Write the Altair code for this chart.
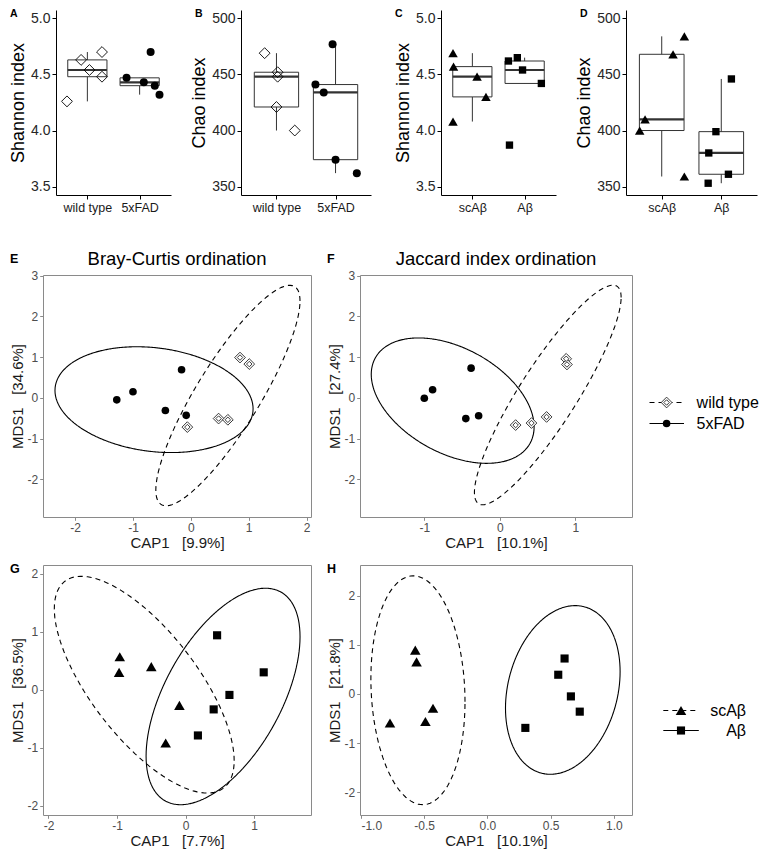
import altair as alt
import pandas as pd

FONT = "Liberation Sans"
INK = "#333333"
GRAYTXT = "#4d4d4d"
BORDER = "#8a8a8a"

genotypes = ["wild type", "5xFAD"]
treatments = ["scA\u03b2", "A\u03b2"]

# ---------------- top row: alpha diversity (x = jittered group position) ----------------
a_wt_x = [0.61, 0.88, 1.04, 1.28, 1.28]
a_wt_y = [4.26, 4.63, 4.54, 4.70, 4.48]
a_fad_x = [1.75, 2.08, 2.21, 2.29, 2.38]
a_fad_y = [4.47, 4.43, 4.70, 4.40, 4.32]

b_wt_x = [0.80, 1.02, 1.02, 1.00, 1.31]
b_wt_y = [469, 452, 448, 421, 400]
b_fad_x = [1.66, 1.80, 1.95, 2.00, 2.36]
b_fad_y = [441, 434, 477, 374, 362]

c_sc_x = [0.63, 0.64, 1.09, 1.26, 0.63]
c_sc_y = [4.69, 4.57, 4.48, 4.30, 4.08]
c_ab_x = [1.69, 1.86, 1.96, 2.32, 1.71]
c_ab_y = [4.62, 4.65, 4.54, 4.42, 3.87]

d_sc_x = [1.38, 1.19, 0.72, 0.63, 1.38]
d_sc_y = [484, 468, 410, 400, 359]
d_ab_x = [2.17, 1.91, 1.79, 2.12, 1.78]
d_ab_y = [446, 399, 380, 361, 353]

shannon_ticks = [3.5, 4.0, 4.5, 5.0]
chao_ticks = [350, 400, 450, 500]

# ---------------- ordinations ----------------
e_wt_x = [0.85, 1.01, 0.48, 0.64, -0.06]
e_wt_y = [0.99, 0.83, -0.51, -0.54, -0.72]
e_fad_x = [-1.28, -1.00, -0.16, -0.44, -0.08]
e_fad_y = [-0.05, 0.15, 0.69, -0.31, -0.43]

f_wt_x = [0.88, 0.89, 0.21, 0.42, 0.62]
f_wt_y = [0.96, 0.82, -0.67, -0.62, -0.47]
f_fad_x = [-0.38, -0.89, -1.00, -0.45, -0.28]
f_fad_y = [0.73, 0.20, -0.01, -0.51, -0.44]

g_sc_x = [-0.96, -0.97, -0.50, -0.09, -0.29]
g_sc_y = [0.57, 0.30, 0.40, -0.27, -0.92]
g_ab_x = [0.46, 1.14, 0.64, 0.41, 0.18]
g_ab_y = [0.94, 0.30, -0.09, -0.34, -0.79]

h_sc_x = [-0.57, -0.56, -0.77, -0.49, -0.43]
h_sc_y = [0.89, 0.65, -0.59, -0.56, -0.29]
h_ab_x = [0.61, 0.56, 0.66, 0.73, 0.30]
h_ab_y = [0.72, 0.39, -0.05, -0.36, -0.69]

# ellipse parameters per group: centre, half-extent in x and y, phase
e_ell = {"cx": [0.641, -0.636], "cy": [0.056, -0.045], "rx": [1.246, 1.712], "ry": [2.71, 1.301], "phi": [0.54, 1.745]}
f_ell = {"cx": [0.636, -0.624], "cy": [0.07, -0.069], "rx": [0.972, 1.079], "ry": [2.70, 1.542], "phi": [0.478, 2.003]}
g_ell = {"cx": [-0.603, 0.547], "cy": [0.087, -0.117], "rx": [1.312, 1.123], "ry": [1.872, 1.87], "phi": [2.348, 0.987]}
h_ell = {"cx": [-0.549, 0.596], "cy": [0.075, 0.081], "rx": [0.372, 0.453], "ry": [2.325, 1.714], "phi": [1.671, 1.353]}

# ---------------- marker styles ----------------
HOLLOW_DIAMOND = [dict(shape="diamond", size=118, filled=False, stroke="black", strokeWidth=0.9, opacity=1)]
DOT_BIG = [dict(shape="circle", size=64, filled=True, fill="black", stroke="black", strokeWidth=0, opacity=1)]
TRI_SMALL = [dict(shape="triangle-up", size=90, filled=True, fill="black", strokeWidth=0, opacity=1)]
SQ_SMALL = [dict(shape="square", size=54, filled=True, fill="black", strokeWidth=0, opacity=1)]
DOUBLE_DIAMOND = [
    dict(shape="diamond", size=115, filled=True, fill="white", stroke="#222222", strokeWidth=0.9, opacity=1),
    dict(shape="diamond", size=30, filled=True, fill="white", stroke="#222222", strokeWidth=0.9, opacity=1),
]
DOT = [dict(shape="circle", size=58, filled=True, fill="black", strokeWidth=0, opacity=1)]
TRI = [dict(shape="triangle-up", size=112, filled=True, fill="black", strokeWidth=0, opacity=1)]
SQ = [dict(shape="square", size=66, filled=True, fill="black", strokeWidth=0, opacity=1)]

DASHED = [5, 4]
SOLID = [1, 0]


def text_layer(txt, dx, dy, size, bold=True, align="left"):
    return alt.Chart(pd.DataFrame({"t": [txt]})).mark_text(
        align=align, baseline="alphabetic", fontWeight="bold" if bold else "normal",
        fontSize=size, font=FONT, color="black"
    ).encode(text="t:N", x=alt.value(dx), y=alt.value(dy))


def box_panel(letter, cats, x1, y1, x2, y2, kinds, ydomain, yticks, yfmt, ytitle, width, height):
    df = pd.DataFrame({
        "grp": [cats[0]] * len(y1) + [cats[1]] * len(y2),
        "gx": [1] * len(y1) + [2] * len(y2),
        "jx": x1 + x2,
        "value": y1 + y2,
    })
    xscale = alt.Scale(domain=[0.4, 2.6], nice=False, zero=False)
    yscale = alt.Scale(domain=ydomain, nice=False, zero=False)
    lab = f"datum.value == 1 ? '{cats[0]}' : '{cats[1]}'"
    xaxis = alt.Axis(values=[1, 2], labelExpr=lab, title=None, grid=False, domainColor="black",
                     tickColor="black", tickSize=4, labelFontSize=12.5, labelColor="#1a1a1a",
                     labelPadding=2, labelAngle=0, labelFont=FONT)
    yaxis = alt.Axis(values=yticks, format=yfmt, title=ytitle, grid=False, domainColor="black",
                     tickColor="black", tickSize=4, labelFontSize=14, labelColor="#262626",
                     labelPadding=2, labelFont=FONT, titleFont=FONT, titleFontSize=18,
                     titleFontWeight="normal", titleColor="black", titlePadding=3)

    def X(f):
        return alt.X(f, scale=xscale, axis=xaxis)

    def Y(f):
        return alt.Y(f, scale=yscale, axis=yaxis)

    base = alt.Chart(df)
    whisk = base.transform_joinaggregate(
        q1="q1(value)", q3="q3(value)", groupby=["gx"]
    ).transform_filter(
        "datum.value >= datum.q1 - 1.5*(datum.q3-datum.q1) && datum.value <= datum.q3 + 1.5*(datum.q3-datum.q1)"
    ).transform_aggregate(
        lo="min(value)", hi="max(value)", groupby=["gx"]
    ).mark_rule(color=INK, strokeWidth=1).encode(x=X("gx:Q"), y=Y("lo:Q"), y2="hi")

    stats = base.transform_aggregate(
        q1="q1(value)", med="median(value)", q3="q3(value)", groupby=["gx"]
    ).transform_calculate(xl="datum.gx - 0.375", xr="datum.gx + 0.375")
    rect = stats.mark_rect(fill="white", stroke=INK, strokeWidth=1).encode(
        x=X("xl:Q"), x2="xr", y=Y("q1:Q"), y2="q3")
    med = stats.mark_rule(color=INK, strokeWidth=2.2).encode(x=X("xl:Q"), x2="xr", y=Y("med:Q"))

    layers = [whisk, rect, med]
    for cat, kind in zip(cats, kinds):
        for k in kind:
            layers.append(base.transform_filter(alt.datum.grp == cat).mark_point(**k).encode(
                x=X("jx:Q"), y=Y("value:Q")))
    layers.append(text_layer(letter, -46, 7, 10.5))
    return alt.layer(*layers).properties(width=width, height=height)


def ord_panel(letter, title, cats, pts, ell, kinds, dashes, xdomain, ydomain, xticks, yticks,
              xfmt, xtitle, ytitle, width, height):
    rows = []
    for cat, (xs, ys) in zip(cats, pts):
        for xv, yv in zip(xs, ys):
            rows.append({"grp": cat, "x": xv, "y": yv})
    df = pd.DataFrame(rows)
    edf = pd.DataFrame({"grp": cats, **ell})
    xscale = alt.Scale(domain=xdomain, nice=False, zero=False)
    yscale = alt.Scale(domain=ydomain, nice=False, zero=False)
    common = dict(grid=False, domain=False, tickColor=BORDER, tickSize=3.3, labelFontSize=12,
                  labelColor=GRAYTXT, labelPadding=2, labelFont=FONT, titleFont=FONT,
                  titleFontSize=15, titleFontWeight="normal", titleColor="#1a1a1a")
    xaxis = alt.Axis(values=xticks, format=xfmt, labelExpr="replace(datum.label, '\u2212', '-')",
                     title=xtitle, titlePadding=2, labelAngle=0, **common)
    yaxis = alt.Axis(values=yticks, format="d", labelExpr="replace(datum.label, '\u2212', '-')",
                     title=ytitle, titlePadding=2, **common)

    def X(f):
        return alt.X(f, scale=xscale, axis=xaxis)

    def Y(f):
        return alt.Y(f, scale=yscale, axis=yaxis)

    layers = []
    for cat, dash in zip(cats, dashes):
        layers.append(
            alt.Chart(edf).transform_filter(alt.datum.grp == cat)
            .transform_calculate(i="sequence(0, 121)")
            .transform_flatten(["i"])
            .transform_calculate(t="datum.i * 2 * PI / 120")
            .transform_calculate(
                ex="datum.cx + datum.rx * cos(datum.t)",
                ey="datum.cy + datum.ry * cos(datum.t - datum.phi)",
            )
            .mark_line(color="black", strokeWidth=1.1, strokeDash=dash)
            .encode(x=X("ex:Q"), y=Y("ey:Q"), order="i:Q")
        )
    for cat, kind in zip(cats, kinds):
        for k in kind:
            layers.append(alt.Chart(df).transform_filter(alt.datum.grp == cat).mark_point(**k).encode(
                x=X("x:Q"), y=Y("y:Q")))
    if title:
        layers.append(text_layer(letter, -33, -12.5, 12.5))
        layers.append(text_layer(title, width / 2, -10.5, 18.5, bold=False, align="center"))
    else:
        layers.append(text_layer(letter, -33, 7.5, 12.5))
    return alt.layer(*layers).properties(
        width=width, height=height, view=alt.ViewBackground(stroke=BORDER, strokeWidth=1))


def legend_panel(labels, items, height, yrange, line_x, mark_x, text_x, text_align):
    df = pd.DataFrame({"label": labels})
    ysc = alt.Scale(type="point", domain=labels, range=yrange, padding=0)
    Yl = alt.Y("label:N", scale=ysc, axis=None)
    layers = []
    for lab, (dash, kind) in zip(labels, items):
        sub = alt.Chart(df).transform_filter(alt.datum.label == lab)
        layers.append(sub.mark_rule(color="black", strokeWidth=1.1, strokeDash=dash).encode(
            x=alt.value(line_x[0]), x2=alt.value(line_x[1]), y=Yl))
        for k in kind:
            layers.append(sub.mark_point(**k).encode(x=alt.value(mark_x), y=Yl))
    layers.append(alt.Chart(df).mark_text(align=text_align, baseline="middle", fontSize=16, font=FONT,
                                          color="black").encode(x=alt.value(text_x), y=Yl, text="label:N"))
    return alt.layer(*layers).properties(width=66, height=height)


def spacer():
    return alt.Chart(pd.DataFrame({"s": [0]})).mark_point(opacity=0, size=1).properties(width=1, height=1)


TOP_H = 185
A = box_panel("A", genotypes, a_wt_x, a_wt_y, a_fad_x, a_fad_y, [HOLLOW_DIAMOND, DOT_BIG],
              [3.425, 5.075], shannon_ticks, ".1f", "Shannon index", 115, TOP_H)
B = box_panel("B", genotypes, b_wt_x, b_wt_y, b_fad_x, b_fad_y, [HOLLOW_DIAMOND, DOT_BIG],
              [342.5, 507.5], chao_ticks, "d", "Chao index", 130, TOP_H)
C = box_panel("C", treatments, c_sc_x, c_sc_y, c_ab_x, c_ab_y, [TRI_SMALL, SQ_SMALL],
              [3.425, 5.075], shannon_ticks, ".1f", "Shannon index", 115, TOP_H)
D = box_panel("D", treatments, d_sc_x, d_sc_y, d_ab_x, d_ab_y, [TRI_SMALL, SQ_SMALL],
              [342.5, 507.5], chao_ticks, "d", "Chao index", 131, TOP_H)

SP = "\u00a0\u00a0\u00a0"
MID_H = 242
BOT_H = 250
E = ord_panel("E", "Bray-Curtis ordination", genotypes, [(e_wt_x, e_wt_y), (e_fad_x, e_fad_y)], e_ell,
              [DOUBLE_DIAMOND, DOT], [DASHED, SOLID], [-2.555, 2.077], [-2.93, 3.02],
              [-2, -1, 0, 1, 2], [-2, -1, 0, 1, 2, 3], "d", "CAP1" + SP + "[9.9%]", "MDS1" + SP + "[34.6%]",
              268, MID_H)
F = ord_panel("F", "Jaccard index ordination", genotypes, [(f_wt_x, f_wt_y), (f_fad_x, f_fad_y)], f_ell,
              [DOUBLE_DIAMOND, DOT], [DASHED, SOLID], [-1.852, 1.752], [-2.93, 3.02],
              [-1, 0, 1], [-2, -1, 0, 1, 2, 3], "d", "CAP1" + SP + "[10.1%]", "MDS1" + SP + "[27.4%]",
              272, MID_H)
G = ord_panel("G", None, treatments, [(g_sc_x, g_sc_y), (g_ab_x, g_ab_y)], g_ell,
              [TRI, SQ], [DASHED, SOLID], [-2.08, 1.83], [-2.164, 2.154],
              [-2, -1, 0, 1], [-2, -1, 0, 1, 2], "d", "CAP1" + SP + "[7.7%]", "MDS1" + SP + "[36.5%]",
              268, BOT_H)
H = ord_panel("H", None, treatments, [(h_sc_x, h_sc_y), (h_ab_x, h_ab_y)], h_ell,
              [TRI, SQ], [DASHED, SOLID], [-1.007, 1.143], [-2.46, 2.62],
              [-1.0, -0.5, 0.0, 0.5, 1.0], [-2, -1, 0, 1, 2], ".1f", "CAP1" + SP + "[10.1%]",
              "MDS1" + SP + "[21.8%]", 272, BOT_H)

L1 = legend_panel(genotypes, [(DASHED, DOUBLE_DIAMOND), (SOLID, DOT)], MID_H, [127.5, 148.5],
                  (-31.5, 3), -14.4, 15.6, "left")
L2 = legend_panel(treatments, [(DASHED, TRI), (SOLID, SQ)], BOT_H, [145.5, 165.5],
                  (-17.7, 17.8), 0, 65, "right")

row1 = alt.hconcat(spacer(), alt.hconcat(A, B, C, D, spacing=70, bounds="flush"), spacing=0)
row2 = alt.hconcat(spacer(), alt.hconcat(E, F, L1, spacing=49, bounds="flush"), spacing=0)
row3 = alt.hconcat(spacer(), alt.hconcat(G, H, L2, spacing=49, bounds="flush"), spacing=0)
lower = alt.vconcat(row2, row3, spacing=11)

chart = alt.vconcat(row1, lower, spacing=35, padding=0).configure(font=FONT).configure_view(
    stroke="transparent"
)

chart.save("out.html", embed_options={"renderer": "svg", "actions": False})
